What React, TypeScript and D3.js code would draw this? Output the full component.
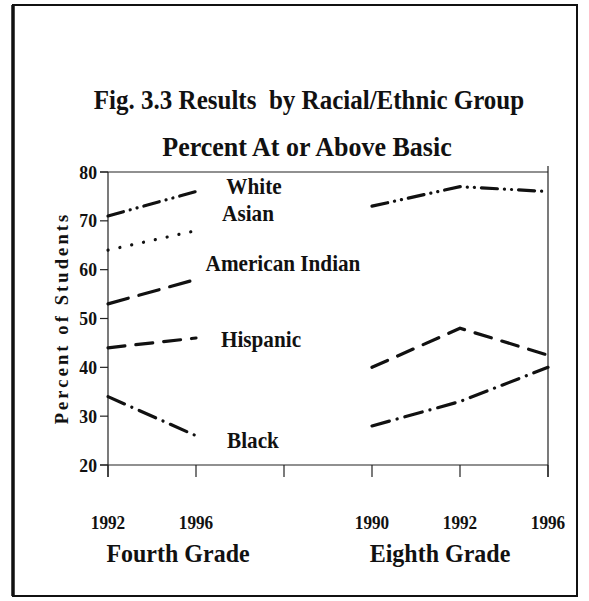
import React from "react";
import * as d3 from "d3";

const positions = ["g4-1992", "g4-1996", "gap", "g8-1990", "g8-1992", "g8-1996"];
const tickLabels = ["1992", "1996", "", "1990", "1992", "1996"];
const yTicks = [20, 30, 40, 50, 60, 70, 80];
const gradeLabels = [
  { text: "Fourth Grade", from: "g4-1992", to: "g4-1996" },
  { text: "Eighth Grade", from: "g8-1990", to: "g8-1992" },
];

const whiteG4 = [71, 76];
const whiteG8 = [73, 77, 76];
const asianG4 = [64, 68];
const amIndG4 = [53, 58];
const hispG4 = [44, 46];
const hispG8 = [40, 48, 42.5];
const blackG4 = [34, 26];
const blackG8 = [28, 33, 40];

const g4Keys = ["g4-1992", "g4-1996"];
const g8Keys = ["g8-1990", "g8-1992", "g8-1996"];

const seriesList = [
  { name: "White", g4: whiteG4, g8: whiteG8, dash: "16 7 0.1 7 0.1 7", label: { x: 254, y: 194 } },
  { name: "Asian", g4: asianG4, g8: [], dash: "0.1 12", label: { x: 248, y: 221 } },
  { name: "American Indian", g4: amIndG4, g8: [], dash: "21 11", label: { x: 283, y: 271 } },
  { name: "Hispanic", g4: hispG4, g8: hispG8, dash: "17 11", label: { x: 261, y: 347 } },
  { name: "Black", g4: blackG4, g8: blackG8, dash: "18 8 0.1 8", label: { x: 253, y: 448 } },
];

const FONT = "'Liberation Serif', 'Times New Roman', serif";
const SX = 0.93;

function CText(props: {
  x: number;
  y: number;
  size: number;
  anchor?: "start" | "middle" | "end";
  children: React.ReactNode;
  pre?: boolean;
}) {
  return (
    <text
      transform={`translate(${props.x},${props.y}) scale(${SX},1)`}
      textAnchor={props.anchor || "middle"}
      fontSize={props.size}
      fill="#111"
      style={props.pre ? { whiteSpace: "pre" } : undefined}
    >
      {props.children}
    </text>
  );
}

export default function App() {
  const x = d3.scalePoint<string>().domain(positions).range([108, 548]);
  const y = d3.scaleLinear().domain([20, 80]).range([465, 172]);
  const line = d3
    .line<[string, number]>()
    .x((d) => x(d[0]) as number)
    .y((d) => y(d[1]));

  return (
    <svg
      width={589}
      height={601}
      style={{ position: "absolute", left: 0, top: 0, background: "#fff" }}
      fontFamily={FONT}
      fontWeight="bold"
    >
      <rect x={0} y={0} width={589} height={601} fill="#fff" />
      {/* frame */}
      <rect x={13} y={5} width={564} height={591} fill="none" stroke="#111" strokeWidth={2} />
      <line x1={13} x2={13} y1={5} y2={596} stroke="#111" strokeWidth={3.5} />

      <CText x={309} y={109} size={26.9} pre>
        {"Fig. 3.3 Results  by Racial/Ethnic Group"}
      </CText>
      <CText x={307} y={156} size={28}>
        Percent At or Above Basic
      </CText>

      {/* plot box lines */}
      <line x1={100} x2={548} y1={y(80)} y2={y(80)} stroke="#222" strokeWidth={1.2} />
      <line x1={100} x2={548} y1={y(20)} y2={y(20)} stroke="#222" strokeWidth={1.2} />
      <line x1={108} x2={108} y1={y(80)} y2={y(20) + 12} stroke="#222" strokeWidth={1.2} />
      <line x1={548} x2={548} y1={y(80) - 6} y2={y(20) + 12} stroke="#222" strokeWidth={1.2} />

      {yTicks.map((t) => (
        <g key={t}>
          <line x1={100} x2={108} y1={y(t)} y2={y(t)} stroke="#222" strokeWidth={1.2} />
          <CText x={97} y={y(t) + 6.5} size={19} anchor="end">
            {t}
          </CText>
        </g>
      ))}

      {positions.map((p, i) => (
        <g key={p}>
          <line x1={x(p)} x2={x(p)} y1={y(20)} y2={y(20) + 12} stroke="#222" strokeWidth={1.2} />
          {tickLabels[i] && (
            <CText x={x(p) as number} y={529} size={18.5}>
              {tickLabels[i]}
            </CText>
          )}
        </g>
      ))}

      {gradeLabels.map((g) => (
        <CText
          key={g.text}
          x={((x(g.from) as number) + (x(g.to) as number)) / 2 + (g.text === "Fourth Grade" ? 26 : 24)}
          y={562}
          size={25.8}
        >
          {g.text}
        </CText>
      ))}

      <text
        transform={`translate(68, 318) rotate(-90)`}
        textAnchor="middle"
        fontSize={18.5}
        letterSpacing={3.1}
        fill="#111"
      >
        Percent of Students
      </text>

      {seriesList.map((s) => (
        <g key={s.name}>
          <path
            d={line(g4Keys.map((k, i) => [k, s.g4[i]] as [string, number])) || ""}
            fill="none"
            stroke="#111"
            strokeWidth={3.2}
            strokeDasharray={s.dash}
            strokeLinecap="round"
          />
          {s.g8.length > 0 && (
            <path
              d={line(g8Keys.map((k, i) => [k, s.g8[i]] as [string, number])) || ""}
              fill="none"
              stroke="#111"
              strokeWidth={3.2}
              strokeDasharray={s.dash}
              strokeLinecap="round"
            />
          )}
          <CText x={s.label.x} y={s.label.y} size={22.8}>
            {s.name}
          </CText>
        </g>
      ))}
    </svg>
  );
}
